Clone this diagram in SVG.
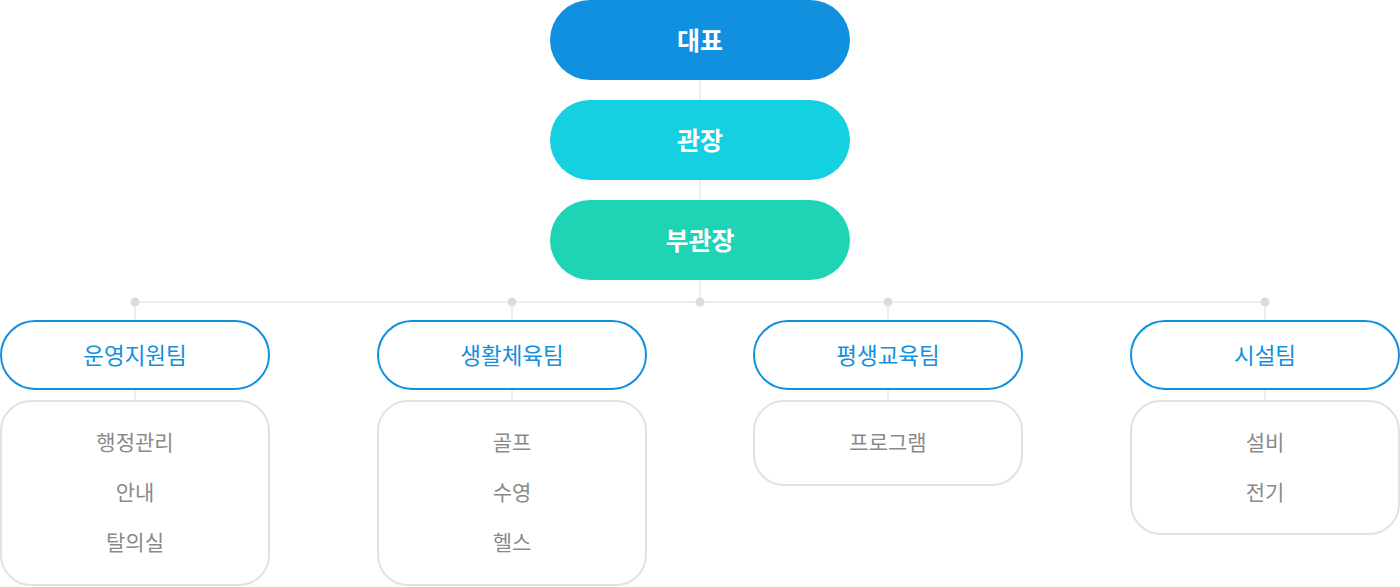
<svg xmlns="http://www.w3.org/2000/svg" width="1400" height="587" viewBox="0 0 1400 587">
<style>
text{font-family:"Noto Sans CJK KR","Noto Sans",sans-serif;text-anchor:middle;dominant-baseline:central}
.top{font-size:25px;font-weight:700;fill:#fff}
.team rect{fill:#fff;stroke:#1190e0;stroke-width:2}
.team text{font-size:22.5px;fill:#1190e0}
.sub rect{fill:#fff;stroke:#e2e2e2;stroke-width:2}
.sub text{font-size:21px;fill:#8a8a8a}
.ln{stroke:#dcdcdc;stroke-width:1;fill:none}
.dot{fill:#dcdcdc}
</style>
<g id="connectors">
<path class="ln" d="M700 80V100M700 180V200M700 280V302M135 302H1265M135 302V321M512 302V321M888 302V321M1265 302V321M135 389V401M512 389V401M888 389V401M1265 389V401"/>
<circle class="dot" cx="135" cy="302" r="4.5"/>
<circle class="dot" cx="512" cy="302" r="4.5"/>
<circle class="dot" cx="700" cy="302" r="4.5"/>
<circle class="dot" cx="888" cy="302" r="4.5"/>
<circle class="dot" cx="1265" cy="302" r="4.5"/>
</g>
<g id="ceo"><rect x="550" y="0" width="300" height="80" rx="40" fill="#1190e0"/><text class="top" x="700" y="39">대표</text></g>
<g id="director"><rect x="550" y="100" width="300" height="80" rx="40" fill="#14d0e0"/><text class="top" x="700" y="139">관장</text></g>
<g id="vice"><rect x="550" y="200" width="300" height="80" rx="40" fill="#1fd4b4"/><text class="top" x="700" y="239">부관장</text></g>
<g id="team1" class="team"><rect x="1" y="321" width="268" height="68" rx="34"/><text x="135" y="354">운영지원팀</text></g>
<g id="team2" class="team"><rect x="378" y="321" width="268" height="68" rx="34"/><text x="512" y="354">생활체육팀</text></g>
<g id="team3" class="team"><rect x="754" y="321" width="268" height="68" rx="34"/><text x="888" y="354">평생교육팀</text></g>
<g id="team4" class="team"><rect x="1131" y="321" width="268" height="68" rx="34"/><text x="1265" y="354">시설팀</text></g>
<g id="sub1" class="sub"><rect x="1" y="401" width="268" height="184" rx="30"/><text x="135" y="441">행정관리</text><text x="135" y="491">안내</text><text x="135" y="541">탈의실</text></g>
<g id="sub2" class="sub"><rect x="378" y="401" width="268" height="184" rx="30"/><text x="512" y="441">골프</text><text x="512" y="491">수영</text><text x="512" y="541">헬스</text></g>
<g id="sub3" class="sub"><rect x="754" y="401" width="268" height="84" rx="30"/><text x="888" y="441">프로그램</text></g>
<g id="sub4" class="sub"><rect x="1131" y="401" width="268" height="133" rx="30"/><text x="1265" y="441">설비</text><text x="1265" y="491">전기</text></g>
</svg>
